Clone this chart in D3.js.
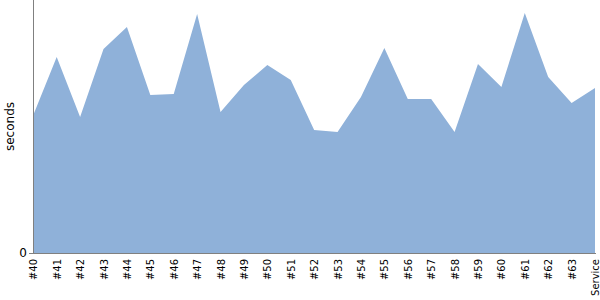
<!DOCTYPE html>
<html>
<head>
<meta charset="utf-8">
<script src="https://cdn.jsdelivr.net/npm/d3@7"></script>
<style>
  body { margin: 0; background: #fff; }
  text { font-family: "DejaVu Sans", sans-serif; }
</style>
</head>
<body>
<svg id="chart" width="600" height="300"></svg>
<script>
// build labels along the x axis
const builds = ['#40','#41','#42','#43','#44','#45','#46','#47','#48','#49','#50','#51',
                '#52','#53','#54','#55','#56','#57','#58','#59','#60','#61','#62','#63','Service'];
// duration in seconds
const durations = [138, 196, 136, 204, 226, 158, 159, 239, 141, 168, 188, 173,
                   123, 121, 156, 205, 154, 154, 121, 189, 166, 240, 176, 150, 165];
const yTicks = [0];

const svg = d3.select('#chart');
const margin = {top: 0, left: 33, right: 5, bottom: 47};
const width  = +svg.attr('width');
const height = +svg.attr('height');
const plotBottom = height - margin.bottom;   // y of the zero line

const data = builds.map((b, i) => ({build: b, secs: durations[i]}));

const xScale = d3.scalePoint()
  .domain(builds)
  .range([margin.left + 0.3, width - margin.right])
  .padding(0);

const yScale = d3.scaleLinear()
  .domain([0, 253])
  .range([plotBottom, margin.top]);

// area
const area = d3.area()
  .x(d => xScale(d.build))
  .y0(yScale(0))
  .y1(d => yScale(d.secs))
  .curve(d3.curveLinear);

svg.append('path')
  .datum(data)
  .attr('d', area)
  .attr('fill', '#8fb1d9');

// y axis, only the zero tick
const gY = svg.append('g')
  .attr('transform', 'translate(' + margin.left + ',0)')
  .call(d3.axisLeft(yScale).tickValues(yTicks).tickSize(4).tickPadding(2).tickSizeOuter(0));
gY.select('.domain').remove();
gY.selectAll('line').attr('stroke', '#808080');
gY.selectAll('text').attr('font-size', 12).attr('fill', '#000')
  .attr('font-family', '"DejaVu Sans", sans-serif');

svg.append('line')
  .attr('x1', margin.left + 0.5).attr('x2', margin.left + 0.5)
  .attr('y1', 0).attr('y2', plotBottom)
  .attr('stroke', '#808080').attr('stroke-width', 1);

// x axis with rotated labels
const gX = svg.append('g')
  .attr('transform', 'translate(0,' + plotBottom + ')')
  .call(d3.axisBottom(xScale).tickSize(0).tickSizeOuter(0));
gX.select('.domain').remove();
gX.selectAll('text')
  .attr('font-size', 10)
  .attr('fill', '#000')
  .attr('font-family', '"DejaVu Sans", sans-serif')
  .attr('text-anchor', 'end')
  .attr('transform', 'rotate(-90)')
  .attr('x', -6)
  .attr('y', 0)
  .attr('dy', '0.35em');

svg.append('line')
  .attr('x1', margin.left).attr('x2', width - margin.right + 1)
  .attr('y1', plotBottom + 0.5).attr('y2', plotBottom + 0.5)
  .attr('stroke', '#808080').attr('stroke-width', 1);

// axis title
svg.append('text')
  .attr('text-anchor', 'middle')
  .attr('transform', 'translate(14,' + (plotBottom / 2) + ')rotate(-90)')
  .attr('font-size', 12)
  .attr('fill', '#000')
  .text('seconds');
</script>
</body>
</html>
